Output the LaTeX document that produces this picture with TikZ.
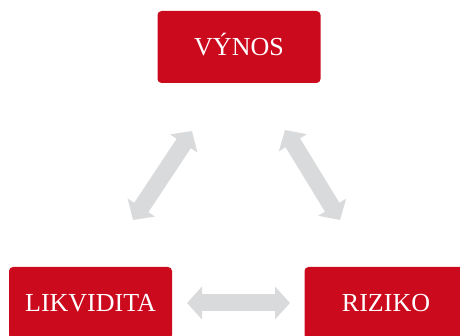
\documentclass[tikz,border=0pt]{standalone}
\usepackage{fontspec}
\setmainfont{Liberation Serif}
\usetikzlibrary{arrows.meta}
\definecolor{boxred}{RGB}{204,10,30}
\definecolor{arrowgray}{RGB}{217,218,219}
\begin{document}
\begin{tikzpicture}[x=1pt,y=-1pt,
  box/.style={fill=boxred, rounded corners=4pt, minimum width=163pt, minimum height=72pt,
    text=white, font=\fontsize{26}{30}\selectfont, inner sep=0pt, text height=17pt, text depth=0pt},
  dbl/.style={draw=arrowgray, line width=17pt,
    {Triangle[length=15pt,width=32pt]}-{Triangle[length=15pt,width=32pt]}}]
\useasboundingbox (0,0) rectangle (460,336);
\node[box] (vynos) at (239,47) {VÝNOS};
\node[box] (likv) at (90.5,303) {LIKVIDITA};
\node[box] (riziko) at (386,303) {RIZIKO};
\coordinate (hl) at (187,303);
\coordinate (hr) at (290,303);
\coordinate (ll) at (133,220);
\coordinate (lu) at (192,131);
\coordinate (ru) at (285,130);
\coordinate (rl) at (340,220);
\draw[dbl] (hl) -- (hr);
\draw[dbl] (ll) -- (lu);
\draw[dbl] (ru) -- (rl);
\end{tikzpicture}
\end{document}
